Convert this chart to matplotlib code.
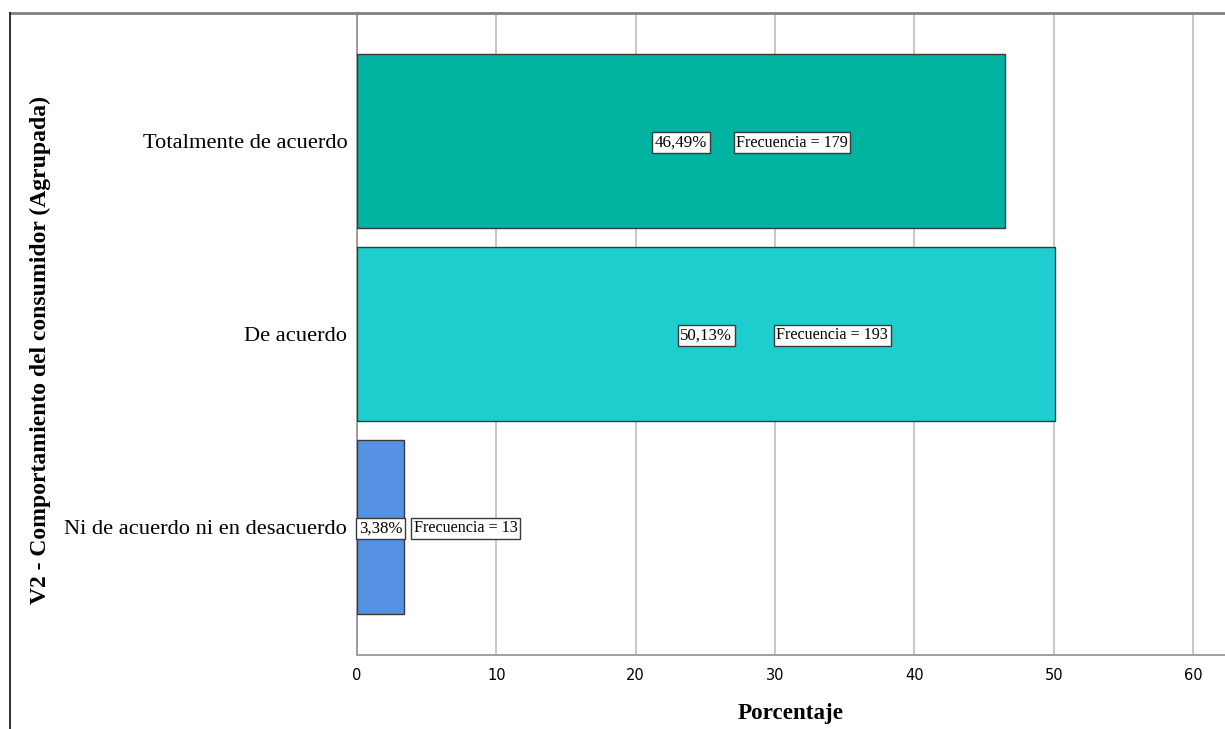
import matplotlib
matplotlib.use("Agg")
import matplotlib.pyplot as plt
from matplotlib.lines import Line2D

# Data
categories = ["Totalmente de acuerdo", "De acuerdo", "Ni de acuerdo ni en desacuerdo"]
percentages = [46.49, 50.13, 3.38]
frequencies = [179, 193, 13]
bar_colors = ["#00B2A0", "#1ECDCD", "#5592E4"]
x_ticks = [0, 10, 20, 30, 40, 50, 60]

serif = "Liberation Serif"

fig = plt.figure(figsize=(12.25, 7.29), dpi=100)
ax = fig.add_axes([357 / 1225, 1 - 655 / 729, 1 - 357 / 1225, (655 - 13) / 729])

ypos = list(range(len(categories)))
ax.barh(ypos, percentages, height=0.9, color=bar_colors,
        edgecolor="#3A3A3A", linewidth=1.0, zorder=3)

ax.set_xlim(0, 62.3)
ax.set_ylim(len(categories) - 0.335, -0.665)
ax.set_xticks(x_ticks)
ax.set_xticklabels([str(t) for t in x_ticks], fontsize=10.5, family="DejaVu Sans")
ax.set_yticks(ypos)
ax.set_yticklabels(categories, fontsize=16.2, family=serif)
ax.tick_params(axis="both", length=0)
ax.tick_params(axis="y", pad=7)
ax.tick_params(axis="x", pad=9)

ax.grid(axis="x", color="#C8C8C8", linewidth=1.4, zorder=0)
ax.set_axisbelow(True)
for side in ("top", "right"):
    ax.spines[side].set_visible(False)
ax.spines["bottom"].set_color("#A0A0A0")
ax.spines["bottom"].set_linewidth(1.4)
ax.spines["left"].set_color("#909090")
ax.spines["left"].set_linewidth(1.2)

ax.set_xlabel("Porcentaje", fontsize=16.6, family=serif, fontweight="bold", labelpad=15)
fig.text(40 / 1225, 1 - 350 / 729, "V2 - Comportamiento del consumidor (Agrupada)",
         rotation=90, ha="center", va="center", fontsize=17, family=serif,
         fontweight="bold")

# Value labels: percentage at bar middle, frequency to its right
freq_offsets_px = [111, 126, 85]
box = dict(boxstyle="square,pad=0.15", facecolor="white", edgecolor="#3A3A3A", linewidth=1.0)
for y, p, f, off in zip(ypos, percentages, frequencies, freq_offsets_px):
    pct_txt = f"{p:.2f}".replace(".", ",") + "%"
    ax.annotate(pct_txt, (p / 2, y), xytext=(0, -1.5), textcoords="offset pixels",
                ha="center", va="center", fontsize=12.2, family=serif,
                bbox=box, zorder=5)
    ax.annotate(f"Frecuencia = {f}", (p / 2, y), xytext=(off, -1.5),
                textcoords="offset pixels", ha="center", va="center",
                fontsize=11.6, family=serif, bbox=box, zorder=5)

# Outer chart frame (top and left edges)
fx = 10 / 1225
fy = 1 - 13 / 729
fig.add_artist(Line2D([fx, 1], [fy, fy], transform=fig.transFigure, color="#808080", linewidth=2))
fig.add_artist(Line2D([fx, fx], [0, fy], transform=fig.transFigure, color="#222222", linewidth=1.3))

fig.savefig("out.png", dpi=100)
